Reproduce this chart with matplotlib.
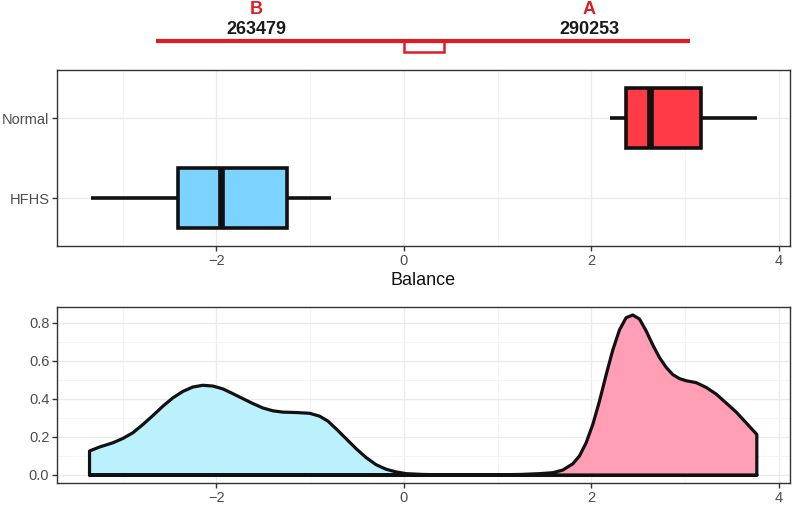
import matplotlib
matplotlib.use("Agg")
import matplotlib.pyplot as plt
from matplotlib.ticker import FixedLocator

plt.rcParams['font.family'] = ['Liberation Sans', 'DejaVu Sans']

# ---------------- data ----------------
groups = ['HFHS', 'Normal']
box_whislo = [-3.34, 2.20]
box_q1 = [-2.41, 2.37]
box_med = [-1.95, 2.63]
box_q3 = [-1.25, 3.17]
box_whishi = [-0.78, 3.77]
box_colors = ['#7DD3FF', '#FF3B45']

hfhs_x = [-3.353, -3.246, -3.104, -2.997, -2.890, -2.784, -2.677, -2.571, -2.464,
          -2.357, -2.250, -2.144, -2.037, -1.930, -1.824, -1.717, -1.610, -1.504,
          -1.397, -1.290, -1.148, -1.006, -0.899, -0.810, -0.721, -0.615, -0.508,
          -0.401, -0.295, -0.188, -0.081, 0.025, 0.2, 0.4, 0.7, 1.2, 2.0, 3.0, 3.766]
hfhs_d = [0.126, 0.147, 0.169, 0.192, 0.222, 0.265, 0.312, 0.361, 0.405,
          0.439, 0.462, 0.471, 0.467, 0.452, 0.427, 0.401, 0.375, 0.352,
          0.337, 0.330, 0.328, 0.324, 0.309, 0.283, 0.242, 0.190, 0.138,
          0.091, 0.054, 0.030, 0.016, 0.007, 0.003, 0.001, 0.0, 0.0, 0.0, 0.0, 0.0]

normal_x = [-3.353, -2.0, -1.0, 0.0, 0.6, 1.0, 1.25, 1.447, 1.590, 1.696, 1.803,
            1.874, 1.945, 2.016, 2.087, 2.159, 2.230, 2.301, 2.372, 2.443, 2.514,
            2.585, 2.656, 2.727, 2.799, 2.870, 2.941, 3.012, 3.119, 3.225, 3.332,
            3.439, 3.545, 3.652, 3.766]
normal_d = [0.0, 0.0, 0.0, 0.0, 0.0, 0.001, 0.003, 0.007, 0.012, 0.026, 0.059,
            0.100, 0.169, 0.265, 0.387, 0.527, 0.657, 0.762, 0.826, 0.840, 0.819,
            0.757, 0.683, 0.617, 0.565, 0.527, 0.506, 0.495, 0.485, 0.460, 0.425,
            0.378, 0.331, 0.274, 0.213]
dens_colors = ['#BBF0FD', '#FF9EB4']

top_labels = ['B', 'A']
top_counts = [263479, 290253]

# ---------------- layout ----------------
W, H = 793, 505
fig = plt.figure(figsize=(W / 100, H / 100), dpi=100)

L, R = 57, 790
def ax_rect(top, bottom):
    return [L / W, (H - bottom) / H, (R - L) / W, (bottom - top) / H]

xlim = (-3.70, 4.12)
GRID_MAJ = '#EBEBEB'
GRID_MIN = '#F4F4F4'
TXT = '#4D4D4D'

def style(ax):
    for s in ax.spines.values():
        s.set_color('#333333')
        s.set_linewidth(1.0)
    ax.tick_params(axis='both', colors='#333333', labelcolor=TXT, labelsize=10.5,
                   length=3.5, width=1.0, pad=2)
    ax.grid(True, which='major', color=GRID_MAJ, lw=1.0)
    ax.grid(True, which='minor', color=GRID_MIN, lw=0.6)
    ax.tick_params(which='minor', length=0)
    ax.set_axisbelow(True)

# --- top annotation ---
axt = fig.add_axes([L / W, (H - 60) / H, (R - L) / W, 60 / H])
axt.set_xlim(*xlim)
axt.set_ylim(60, 0)
axt.axis('off')
red = '#DD1C24'
line_x = [-2.64, 3.05]
axt.plot(line_x, [41, 41], color=red, lw=3.0, solid_capstyle='butt')
axt.plot([0.0, 0.0, 0.43, 0.43], [41, 52, 52, 41], color=red, lw=1.8,
         solid_joinstyle='miter')
lab_x = [-1.57, 1.98]
for xx, lab, cnt in zip(lab_x, top_labels, top_counts):
    axt.text(xx, 9.5, lab, color=red, fontsize=13, fontweight='bold',
             ha='center', va='center')
    axt.text(xx, 30, str(cnt), color='#1A1A1A', fontsize=13, fontweight='bold',
             ha='center', va='center')

# --- boxplot ---
ax1 = fig.add_axes(ax_rect(70, 246))
stats = []
for i, g in enumerate(groups):
    stats.append(dict(label=g, whislo=box_whislo[i], q1=box_q1[i], med=box_med[i],
                      q3=box_q3[i], whishi=box_whishi[i], fliers=[]))
bp = ax1.bxp(stats, positions=[1, 2], widths=0.75, vert=False, showcaps=False,
             showfliers=False, patch_artist=True,
             boxprops=dict(edgecolor='#111111', lw=2.6),
             whiskerprops=dict(color='#111111', lw=2.6, solid_capstyle='butt'),
             medianprops=dict(color='#111111', lw=4.8, solid_capstyle='butt'))
for p, c in zip(bp['boxes'], box_colors):
    p.set_facecolor(c)
    p.set_joinstyle('miter')
ax1.set_xlim(*xlim)
ax1.set_ylim(0.4, 2.6)
ax1.set_yticks([1, 2])
ax1.set_yticklabels(groups)
ax1.xaxis.set_major_locator(FixedLocator([-2, 0, 2, 4]))
ax1.xaxis.set_minor_locator(FixedLocator([-3, -1, 1, 3]))
ax1.set_xticklabels(['\u22122', '0', '2', '4'])
ax1.set_xlabel('Balance', fontsize=13, color='#111111', labelpad=3)
style(ax1)

# --- density ---
ax2 = fig.add_axes(ax_rect(307, 483))
for xs, ds, c in [(hfhs_x, hfhs_d, dens_colors[0]), (normal_x, normal_d, dens_colors[1])]:
    px = list(xs) + [xs[-1], xs[0]]
    py = list(ds) + [0.0, 0.0]
    ax2.fill(px, py, facecolor=c, edgecolor='#111111', lw=2.3, joinstyle='round')
ax2.set_xlim(*xlim)
ax2.set_ylim(-0.042, 0.882)
ax2.xaxis.set_major_locator(FixedLocator([-2, 0, 2, 4]))
ax2.xaxis.set_minor_locator(FixedLocator([-3, -1, 1, 3]))
ax2.set_xticklabels(['\u22122', '0', '2', '4'])
ax2.yaxis.set_major_locator(FixedLocator([0, 0.2, 0.4, 0.6, 0.8]))
ax2.yaxis.set_minor_locator(FixedLocator([0.1, 0.3, 0.5, 0.7]))
ax2.set_yticklabels(['0.0', '0.2', '0.4', '0.6', '0.8'])
style(ax2)

fig.savefig('out.png', dpi=100)
